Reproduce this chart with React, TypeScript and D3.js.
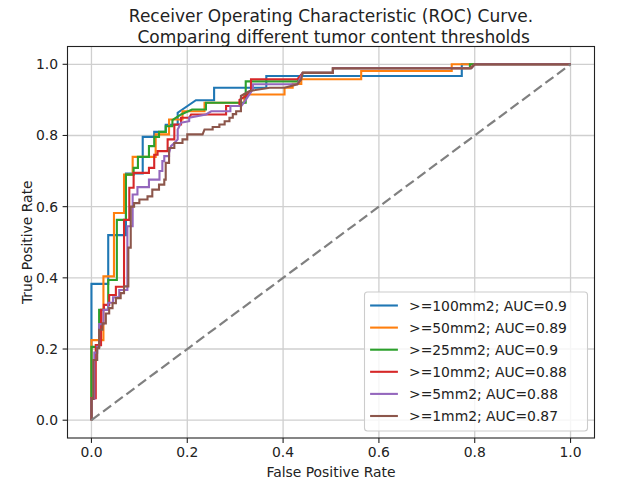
import React from "react";
import * as d3 from "d3";

type Pt = [number, number];

// ROC curves: [false positive rate, true positive rate]
const roc100: Pt[] = [[0,0],[0,0.383],[0.035,0.383],[0.035,0.52],[0.072,0.52],[0.072,0.693],[0.107,0.693],[0.107,0.796],[0.131,0.796],[0.131,0.81],[0.155,0.81],[0.155,0.83],[0.18,0.83],[0.18,0.864],[0.218,0.899],[0.256,0.899],[0.256,0.934],[0.365,0.934],[0.365,0.967],[0.773,0.967],[0.773,1],[1,1]];
const roc50: Pt[] = [[0,0],[0,0.225],[0.025,0.225],[0.025,0.404],[0.047,0.404],[0.047,0.582],[0.068,0.582],[0.068,0.69],[0.086,0.69],[0.086,0.74],[0.134,0.74],[0.134,0.803],[0.162,0.803],[0.162,0.845],[0.19,0.845],[0.19,0.868],[0.236,0.868],[0.236,0.892],[0.319,0.892],[0.319,0.915],[0.403,0.915],[0.403,0.934],[0.42,0.934],[0.42,0.945],[0.438,0.945],[0.438,0.958],[0.563,0.958],[0.563,0.981],[0.752,0.981],[0.752,1],[1,1]];
const roc25: Pt[] = [[0,0],[0,0.206],[0.016,0.206],[0.016,0.31],[0.035,0.31],[0.035,0.394],[0.053,0.394],[0.053,0.563],[0.072,0.563],[0.072,0.69],[0.088,0.69],[0.088,0.709],[0.097,0.709],[0.097,0.74],[0.12,0.74],[0.12,0.77],[0.131,0.77],[0.131,0.796],[0.141,0.796],[0.141,0.81],[0.155,0.81],[0.155,0.826],[0.169,0.826],[0.169,0.843],[0.187,0.859],[0.21,0.873],[0.239,0.873],[0.239,0.892],[0.322,0.892],[0.322,0.952],[0.43,0.952],[0.441,0.976],[0.504,0.976],[0.504,0.989],[0.79,0.989],[0.79,1],[1,1]];
const roc10: Pt[] = [[0,0],[0,0.062],[0.009,0.062],[0.009,0.211],[0.02,0.211],[0.02,0.31],[0.026,0.31],[0.026,0.324],[0.037,0.324],[0.037,0.352],[0.051,0.352],[0.051,0.375],[0.068,0.375],[0.068,0.563],[0.079,0.563],[0.079,0.653],[0.088,0.653],[0.088,0.695],[0.12,0.695],[0.12,0.709],[0.131,0.709],[0.131,0.746],[0.138,0.746],[0.138,0.756],[0.159,0.756],[0.159,0.789],[0.173,0.789],[0.173,0.831],[0.187,0.831],[0.187,0.85],[0.204,0.85],[0.208,0.859],[0.281,0.859],[0.281,0.883],[0.309,0.883],[0.309,0.9],[0.323,0.911],[0.333,0.925],[0.333,0.958],[0.43,0.958],[0.441,0.976],[0.504,0.976],[0.504,0.989],[0.79,0.989],[0.8,1],[1,1]];
const roc5: Pt[] = [[0,0],[0,0.06],[0.006,0.06],[0.006,0.19],[0.012,0.19],[0.012,0.206],[0.016,0.206],[0.016,0.27],[0.025,0.27],[0.025,0.31],[0.035,0.31],[0.035,0.33],[0.045,0.33],[0.045,0.345],[0.058,0.345],[0.058,0.366],[0.075,0.366],[0.075,0.545],[0.086,0.545],[0.086,0.634],[0.096,0.634],[0.096,0.655],[0.12,0.655],[0.12,0.676],[0.142,0.676],[0.142,0.7],[0.148,0.7],[0.148,0.728],[0.152,0.728],[0.152,0.742],[0.162,0.742],[0.162,0.751],[0.166,0.77],[0.173,0.779],[0.18,0.789],[0.18,0.817],[0.187,0.836],[0.204,0.84],[0.204,0.85],[0.239,0.859],[0.25,0.868],[0.29,0.868],[0.29,0.883],[0.313,0.883],[0.322,0.9],[0.337,0.93],[0.337,0.944],[0.43,0.944],[0.441,0.976],[0.504,0.976],[0.504,0.989],[0.793,0.989],[0.8,1],[1,1]];
const roc1: Pt[] = [[0,0],[0,0.06],[0.004,0.06],[0.004,0.169],[0.012,0.169],[0.012,0.202],[0.016,0.202],[0.016,0.254],[0.023,0.254],[0.023,0.272],[0.03,0.272],[0.03,0.3],[0.037,0.3],[0.037,0.315],[0.044,0.315],[0.044,0.329],[0.051,0.329],[0.051,0.343],[0.061,0.343],[0.061,0.357],[0.068,0.357],[0.068,0.376],[0.077,0.376],[0.077,0.485],[0.082,0.485],[0.082,0.6],[0.089,0.6],[0.089,0.61],[0.1,0.61],[0.1,0.62],[0.117,0.62],[0.117,0.629],[0.127,0.629],[0.127,0.648],[0.141,0.648],[0.141,0.662],[0.152,0.662],[0.152,0.676],[0.155,0.676],[0.155,0.723],[0.162,0.723],[0.162,0.765],[0.173,0.765],[0.173,0.779],[0.19,0.779],[0.19,0.789],[0.2,0.789],[0.2,0.803],[0.232,0.803],[0.236,0.817],[0.253,0.817],[0.253,0.824],[0.267,0.824],[0.267,0.831],[0.278,0.831],[0.278,0.84],[0.288,0.84],[0.288,0.85],[0.295,0.85],[0.295,0.86],[0.302,0.86],[0.302,0.868],[0.312,0.868],[0.312,0.911],[0.33,0.925],[0.372,0.934],[0.403,0.934],[0.43,0.944],[0.438,0.958],[0.441,0.976],[0.504,0.976],[0.504,0.989],[0.793,0.989],[0.8,1],[1,1]];

const seriesLabels = [">=100mm2; AUC=0.9", ">=50mm2; AUC=0.89", ">=25mm2; AUC=0.9", ">=10mm2; AUC=0.88", ">=5mm2; AUC=0.88", ">=1mm2; AUC=0.87"];
const seriesData = [roc100, roc50, roc25, roc10, roc5, roc1];
const colors = ["#1f77b4", "#ff7f0e", "#2ca02c", "#d62728", "#9467bd", "#8c564b"];
const diagonal: Pt[] = [[0, 0], [1, 1]];
const ticks = [0, 0.2, 0.4, 0.6, 0.8, 1.0];

const W = 621, H = 486;
const left = 67.5, right = 594.5, top = 46.5, bottom = 438;
const FONT = "DejaVu Sans, Verdana, sans-serif";

export default function App() {
  const x = d3.scaleLinear().domain([-0.05, 1.05]).range([left, right]);
  const y = d3.scaleLinear().domain([-0.05, 1.05]).range([bottom, top]);
  const line = d3.line<Pt>().x(d => x(d[0])).y(d => y(d[1]));

  const legW = 223, legH = 139;
  const legX = right - 7 - legW, legY = bottom - 7 - legH;

  return (
    <svg width={W} height={H} style={{ position: "fixed", left: 0, top: 0, background: "#fff" }} fontFamily={FONT}>
      <rect x={0} y={0} width={W} height={H} fill="#fff" />
      <text x={(left + right) / 2} y={22} fontSize={17} textAnchor="middle" fill="#222">Receiver Operating Characteristic (ROC) Curve.</text>
      <text x={(left + right) / 2} y={42.5} fontSize={17} textAnchor="middle" fill="#222" style={{ whiteSpace: "pre" }}>{" Comparing different tumor content thresholds"}</text>
      {/* grid */}
      {ticks.map(t => (
        <line key={"gx" + t} x1={x(t)} x2={x(t)} y1={top} y2={bottom} stroke="#cfcfcf" strokeWidth={1.3} />
      ))}
      {ticks.map(t => (
        <line key={"gy" + t} x1={left} x2={right} y1={y(t)} y2={y(t)} stroke="#cfcfcf" strokeWidth={1.3} />
      ))}
      {/* curves */}
      {seriesData.map((s, i) => (
        <path key={"s" + i} d={line(s) || ""} fill="none" stroke={colors[i]} strokeWidth={2.1} strokeLinejoin="miter" />
      ))}
      <path d={line(diagonal) || ""} fill="none" stroke="#808080" strokeWidth={2.2} strokeDasharray="10,4.5" />
      {/* spines */}
      <rect x={left} y={top} width={right - left} height={bottom - top} fill="none" stroke="#222" strokeWidth={1.1} />
      {/* x ticks */}
      {ticks.map(t => (
        <g key={"tx" + t}>
          <line x1={x(t)} x2={x(t)} y1={bottom} y2={bottom + 4.9} stroke="#222" strokeWidth={1.1} />
          <text x={x(t)} y={457} fontSize={13.9} textAnchor="middle" fill="#222">{t.toFixed(1)}</text>
        </g>
      ))}
      {/* y ticks */}
      {ticks.map(t => (
        <g key={"ty" + t}>
          <line x1={left - 4.9} x2={left} y1={y(t)} y2={y(t)} stroke="#222" strokeWidth={1.1} />
          <text x={58} y={y(t) + 5} fontSize={13.9} textAnchor="end" fill="#222">{t.toFixed(1)}</text>
        </g>
      ))}
      <text x={(left + right) / 2} y={477} fontSize={13.9} textAnchor="middle" fill="#222">False Positive Rate</text>
      <text transform={`translate(32,${(top + bottom) / 2}) rotate(-90)`} fontSize={13.9} textAnchor="middle" fill="#222">True Positive Rate</text>
      {/* legend */}
      <rect x={legX} y={legY} width={legW} height={legH} rx={3} ry={3} fill="#fff" fillOpacity={0.8} stroke="#cccccc" strokeWidth={1.1} />
      {seriesLabels.map((lab, i) => {
        const cy = legY + 13.5 + i * 22.1;
        return (
          <g key={"l" + i}>
            <line x1={legX + 5.6} x2={legX + 33.4} y1={cy} y2={cy} stroke={colors[i]} strokeWidth={2.1} />
            <text x={legX + 44.5} y={cy + 5} fontSize={13.9} fill="#222">{lab}</text>
          </g>
        );
      })}
    </svg>
  );
}
